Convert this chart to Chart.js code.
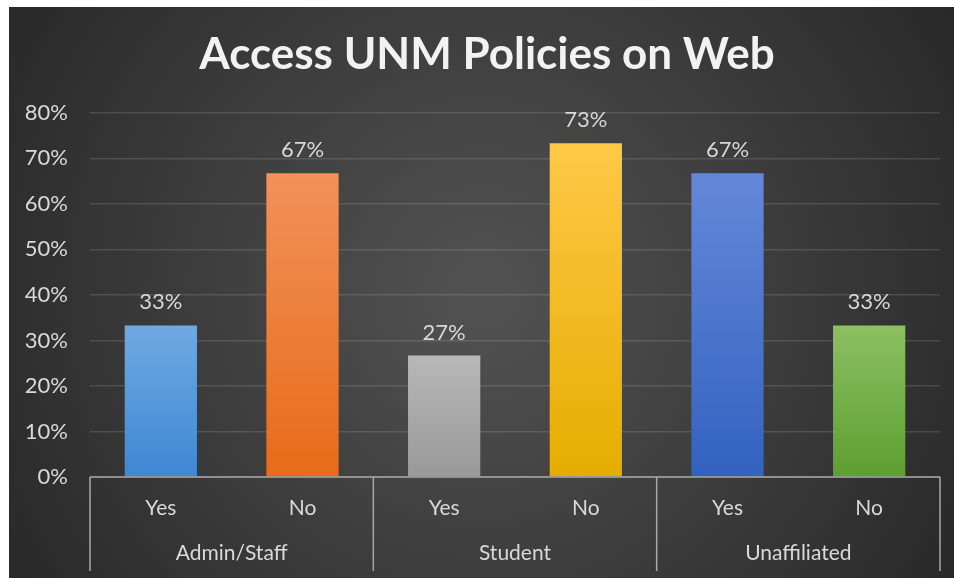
<!DOCTYPE html>
<html>
<head>
<meta charset="utf-8">
<script src="https://cdn.jsdelivr.net/npm/chart.js@4"></script>
<style>
  body { margin: 0; background: #fff; }
  #wrap { position: absolute; left: 9px; top: 7px; width: 945px; height: 571px; }
</style>
</head>
<body>
<div id="wrap"><canvas id="myChart"></canvas></div>
<script>
const answers = ["Yes", "No", "Yes", "No", "Yes", "No"];
const groups = ["Admin/Staff", "Student", "Unaffiliated"];
const shares = [0.333, 0.667, 0.267, 0.733, 0.667, 0.333];
// top / bottom colour of each bar
const topColors = ["#6fa9e2", "#f2915a", "#b8b8b8", "#ffc847", "#6488d8", "#8cc063"];
const bottomColors = ["#3d88d3", "#e76b18", "#999999", "#e6ad00", "#3262c0", "#5d9f30"];

const textColor = "#d9d9d9";
const font = "Lato";

const background = {
  id: "background",
  beforeDraw(chart) {
    const { ctx, width, height } = chart;
    const g = ctx.createRadialGradient(width * 0.5, height * 0.5, 20, width * 0.5, height * 0.5, width * 0.62);
    g.addColorStop(0, "#515151");
    g.addColorStop(1, "#262626");
    ctx.save();
    ctx.fillStyle = g;
    ctx.fillRect(0, 0, width, height);
    ctx.restore();
  },
};

const frameAndLabels = {
  id: "frameAndLabels",
  afterDatasetsDraw(chart) {
    const { ctx, chartArea } = chart;
    const x = chart.scales.x;
    const x2 = chart.scales.x2;
    const meta = chart.getDatasetMeta(0);

    ctx.save();
    // value labels
    ctx.fillStyle = textColor;
    ctx.font = "22px " + font;
    ctx.textAlign = "center";
    ctx.textBaseline = "bottom";
    meta.data.forEach((bar, i) => {
      ctx.fillText(Math.round(shares[i] * 100) + "%", bar.x, bar.y - 12);
    });

    // axis frame
    ctx.strokeStyle = "#a8a8a8";
    ctx.lineWidth = 1.5;
    ctx.beginPath();
    ctx.moveTo(chartArea.left, chartArea.bottom);
    ctx.lineTo(chartArea.right, chartArea.bottom);
    const bounds = [chartArea.left];
    for (let i = 2; i < answers.length; i += 2) {
      bounds.push((x.getPixelForValue(i - 1) + x.getPixelForValue(i)) / 2);
    }
    bounds.push(chartArea.right);
    bounds.forEach((bx) => {
      ctx.moveTo(bx, chartArea.bottom);
      ctx.lineTo(bx, x2.bottom);
    });
    ctx.stroke();
    ctx.restore();
  },
};

const ctx = document.getElementById("myChart");

new Chart(ctx, {
  type: "bar",
  data: {
    labels: answers,
    datasets: [
      {
        data: shares,
        backgroundColor: (c) => {
          const area = c.chart.chartArea;
          if (!area) return topColors[c.dataIndex];
          const g = c.chart.ctx.createLinearGradient(0, area.bottom, 0, c.chart.scales.y.getPixelForValue(shares[c.dataIndex]));
          g.addColorStop(0, bottomColors[c.dataIndex]);
          g.addColorStop(1, topColors[c.dataIndex]);
          return g;
        },
        borderWidth: 0,
        categoryPercentage: 1,
        barPercentage: 0.51,
      },
    ],
  },
  options: {
    responsive: true,
    maintainAspectRatio: false,
    animation: false,
    layout: {
      padding: { left: 11, right: 0, top: 0, bottom: 7 },
    },
    scales: {
      x: {
        weight: 0,
        grid: { display: false, drawTicks: false },
        border: { display: false },
        ticks: {
          color: textColor,
          font: { family: font, size: 21 },
          padding: 19,
        },
        afterFit: (s) => { s.height = 44; },
      },
      x2: {
        type: "category",
        position: "bottom",
        labels: groups,
        offset: true,
        weight: 1,
        grid: { display: false, drawTicks: false },
        border: { display: false },
        ticks: {
          color: textColor,
          font: { family: font, size: 21 },
          padding: 20,
        },
        afterFit: (s) => { s.height = 50; },
      },
      y: {
        min: 0,
        max: 0.8,
        border: { display: false },
        grid: { color: "rgba(255,255,255,0.13)", lineWidth: 1.5, drawTicks: false },
        ticks: {
          stepSize: 0.1,
          color: textColor,
          font: { family: font, size: 22 },
          padding: 22,
          callback: (v) => Math.round(v * 100) + "%",
        },
        afterFit: (s) => { s.width = 70; },
      },
      // empty right-hand margin so the title centres like the original
      yRight: {
        type: "linear",
        position: "right",
        grid: { display: false, drawTicks: false },
        border: { display: false },
        ticks: { display: false },
        afterFit: (s) => { s.width = 14; },
      },
    },
    plugins: {
      title: {
        display: true,
        text: "Access UNM Policies on Web",
        color: "#f2f2f2",
        font: { family: font, size: 44, weight: "bold" },
        padding: { top: 21, bottom: 32 },
      },
      legend: { display: false },
      tooltip: { enabled: false },
    },
  },
  plugins: [background, frameAndLabels],
});
</script>
</body>
</html>
